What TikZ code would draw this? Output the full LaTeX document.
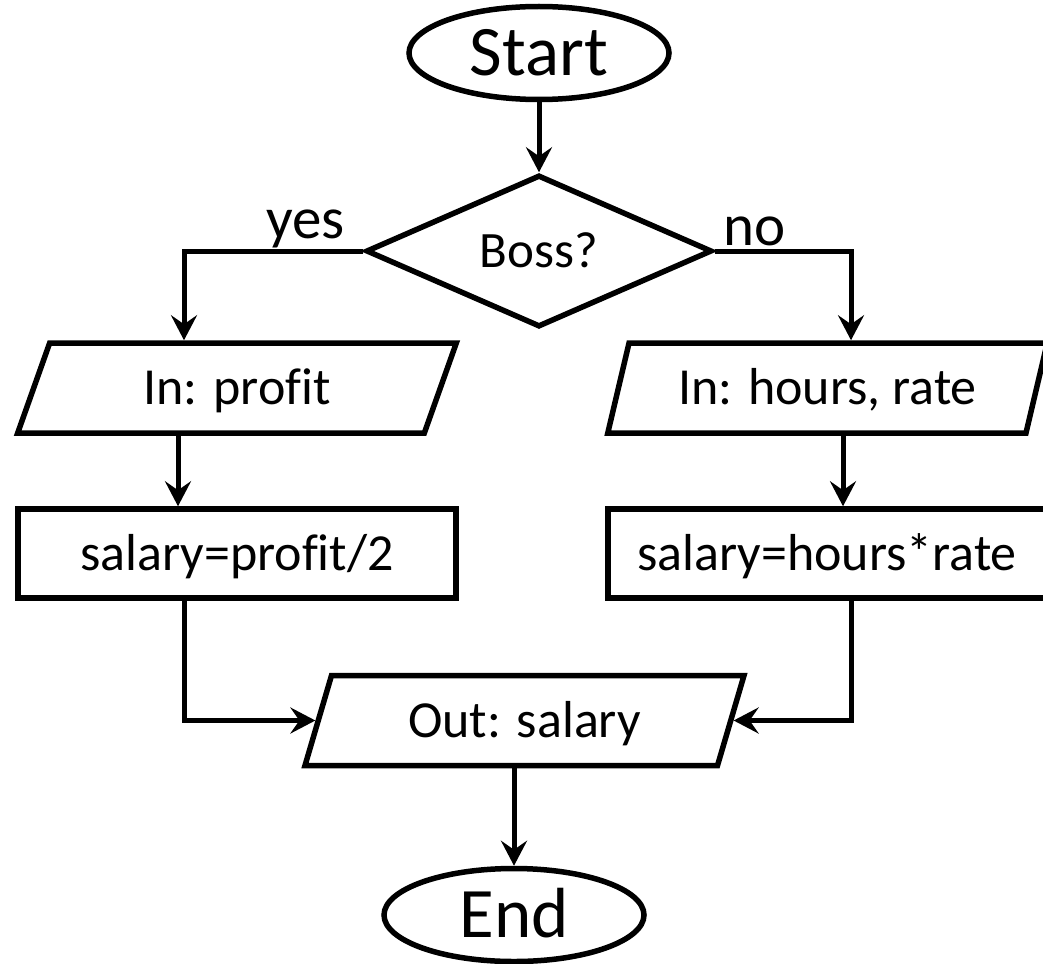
\documentclass[tikz,border=0pt]{standalone}
\usepackage{fontspec}
\setmainfont{Carlito}[Ligatures=NoCommon]
\usetikzlibrary{shapes.geometric,arrows.meta}
\begin{document}
\begin{tikzpicture}[x=1pt,y=-1pt,
  base/.style={draw, line width=5.5pt, inner sep=0pt, text depth=0pt,
    text height=33.5pt, font=\fontsize{52}{60}\selectfont},
  term/.style={base, ellipse, minimum width=260pt, minimum height=93pt,
    text height=45.7pt, font=\fontsize{71}{80}\selectfont},
  io/.style={base, trapezium, trapezium left angle=64.5,
    trapezium right angle=115.5, trapezium stretches=true,
    minimum width=440pt, minimum height=90pt},
  proc/.style={base, rectangle, minimum width=438pt, minimum height=89pt},
  dec/.style={base, diamond, shape aspect=2.28, minimum width=346pt,
    minimum height=152pt, text height=32.8pt, font=\fontsize{51}{60}\selectfont},
  lbl/.style={inner sep=0pt, font=\fontsize{59}{68}\selectfont},
  arr/.style={line width=5pt, -{Stealth[length=25pt,width=26pt,inset=9pt]}}]
\useasboundingbox (0,0) rectangle (1043,963);

% shapes
\node[term] (start) at (539,53) {Start};
\node[dec]  (boss)  at (539,251) {Boss?};
\node[io]   (inP)   at (237,388) {In: prof\kern0pt it};
\node[io]   (inH)   at (827.5,388) {In: hours, rate};
\node[proc] (calcP) at (237,553.5) {salary=prof\kern0pt it/2};
\node[proc] (calcH) at (827,553.5) {salary=hours*rate};
\node[io]   (out)   at (524.5,720.5) {Out: salary};
\node[term] (stop)  at (514,915) {End};

% branch labels
\node[lbl, anchor=base west] (yes) at (266,238) {yes};
\node[lbl, anchor=base west] (no)  at (723,245) {no};

% routing columns
\coordinate (yesbend) at (184,251);
\coordinate (nobend)  at (851,251);
\coordinate (lc) at (178,0);
\coordinate (rc) at (843,0);

% connectors
\draw[arr] (start.south) -- (boss.north);
\draw[arr] (boss.west) -- (yesbend) -- (yesbend |- inP.north);
\draw[arr] (boss.east) -- (nobend) -- (nobend |- inH.north);
\draw[arr] (inP.south -| lc) -- (calcP.north -| lc);
\draw[arr] (inH.south -| rc) -- (calcH.north -| rc);
\draw[arr] (calcP.south -| yesbend) |- (out.west);
\draw[arr] (calcH.south -| nobend) |- (out.east);
\draw[arr] (out.south -| stop.north) -- (stop.north);
\end{tikzpicture}
\end{document}
